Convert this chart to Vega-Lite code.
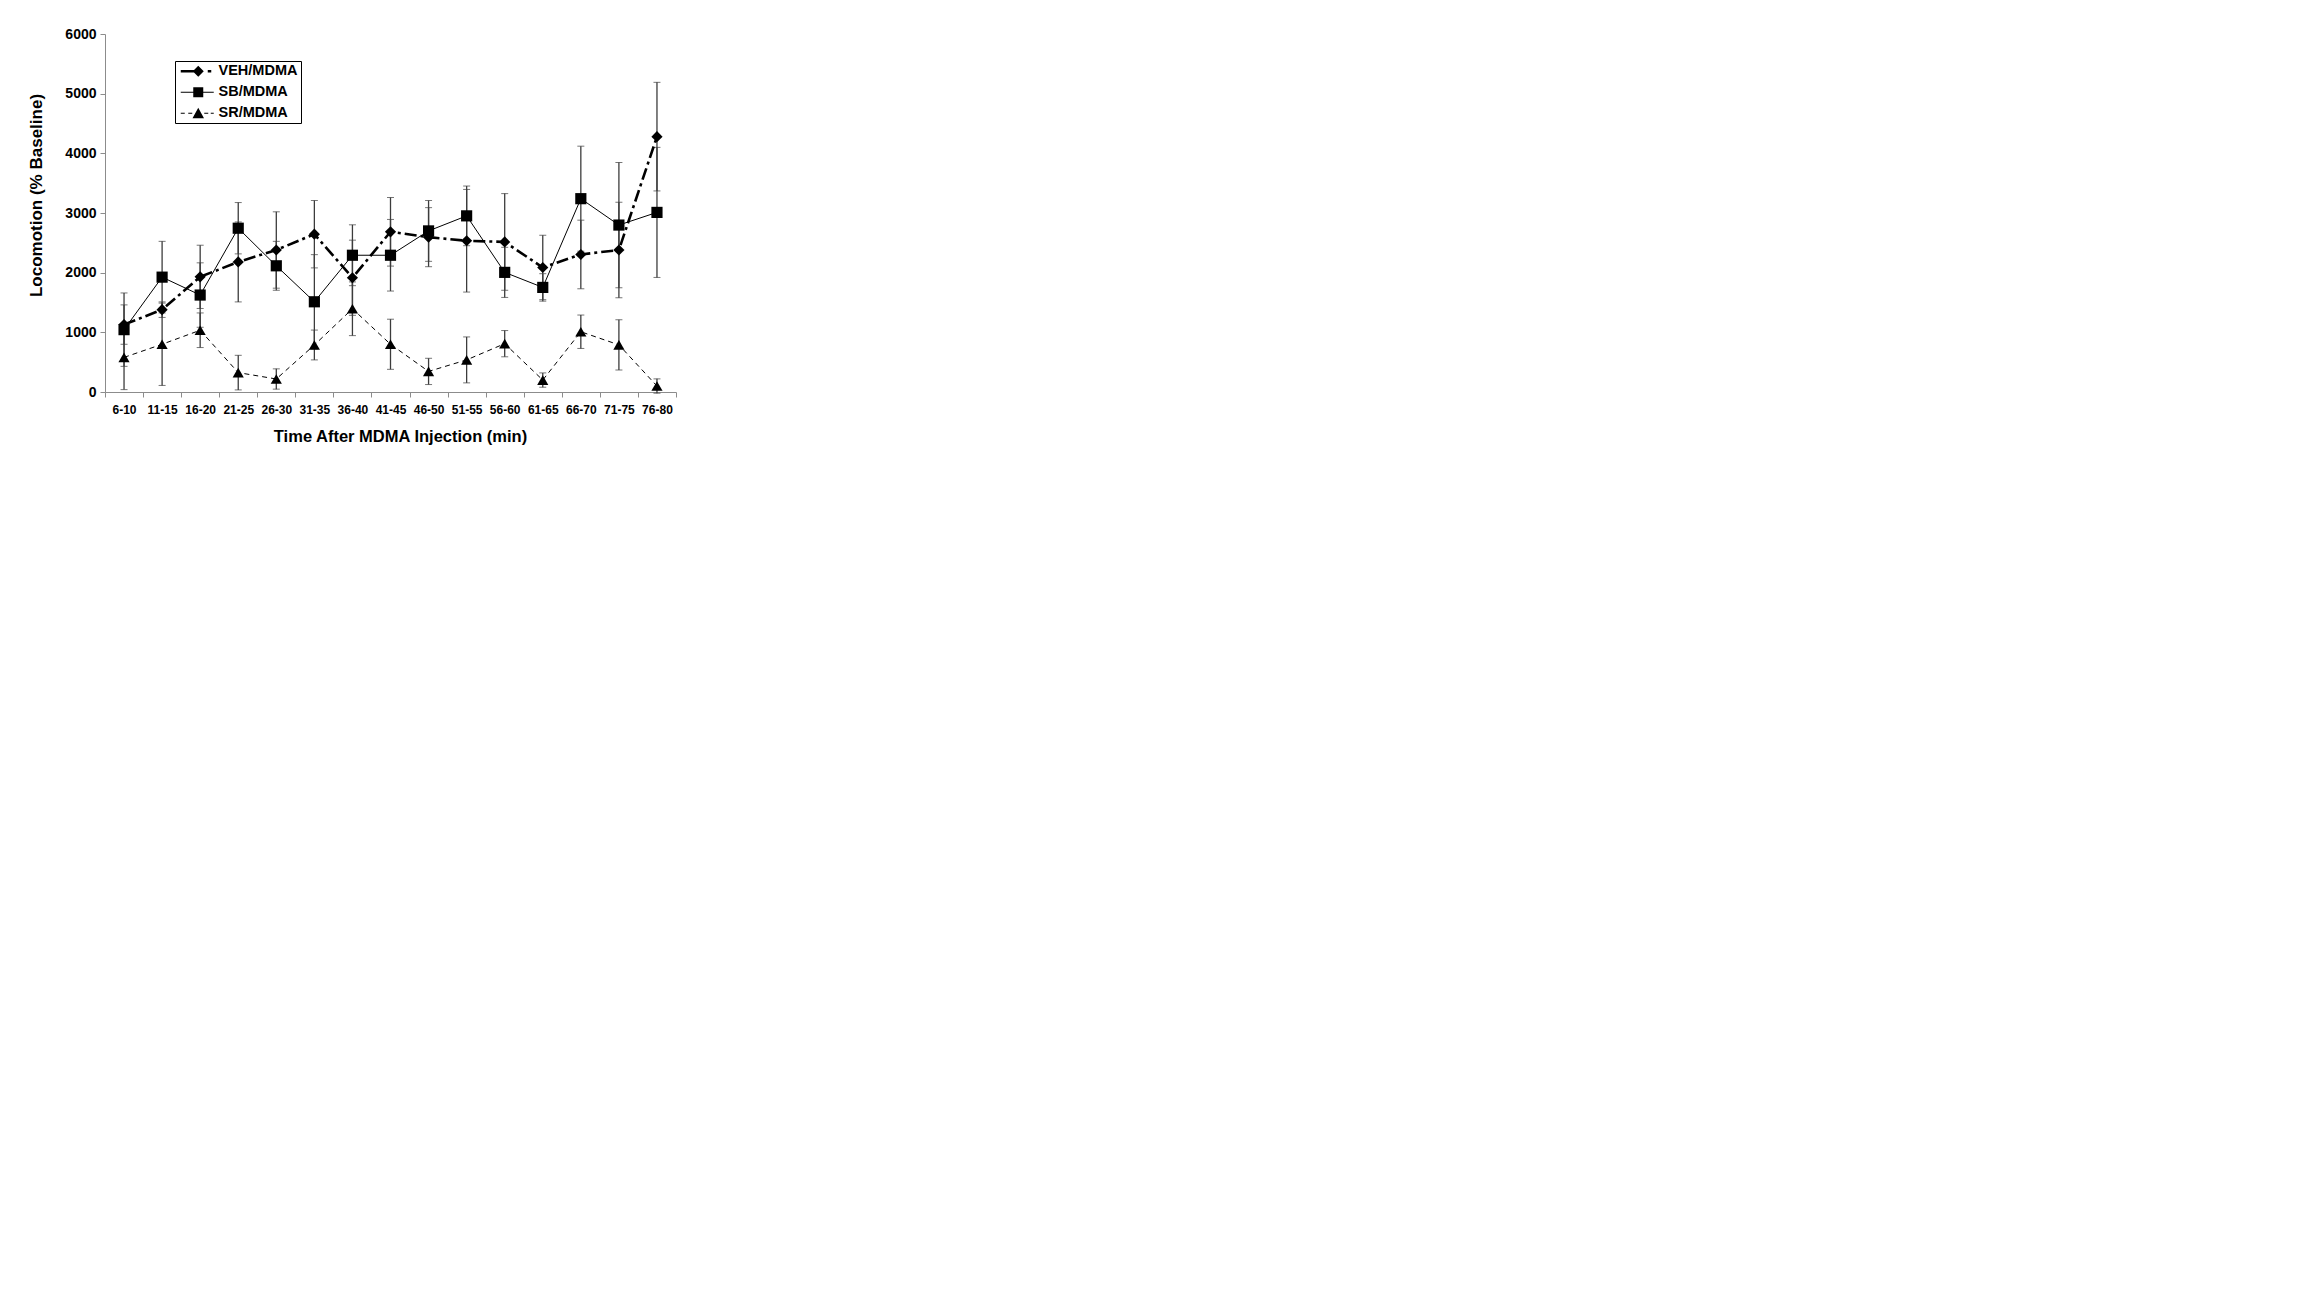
{
  "$schema": "https://vega.github.io/schema/vega-lite/v6.json",
  "autosize": {"type": "none"},
  "padding": {"left": 105, "top": 34, "right": 1628, "bottom": 904},
  "width": 571,
  "height": 358,
  "background": "white",
  "config": {
    "view": {"stroke": null},
    "font": "Liberation Sans",
    "axis": {
      "labelFont": "Liberation Sans",
      "labelFontWeight": "bold",
      "labelColor": "black",
      "titleFont": "Liberation Sans",
      "titleFontWeight": "bold",
      "titleColor": "black",
      "domainColor": "#8c8c8c",
      "tickColor": "#8c8c8c",
      "grid": false
    }
  },
  "data": {
    "values": [
      {"t": "6-10", "group": "VEH/MDMA", "value": 1130, "err": 330},
      {"t": "11-15", "group": "VEH/MDMA", "value": 1380, "err": 130},
      {"t": "16-20", "group": "VEH/MDMA", "value": 1930, "err": 530},
      {"t": "21-25", "group": "VEH/MDMA", "value": 2180, "err": 670},
      {"t": "26-30", "group": "VEH/MDMA", "value": 2380, "err": 640},
      {"t": "31-35", "group": "VEH/MDMA", "value": 2645, "err": 565},
      {"t": "36-40", "group": "VEH/MDMA", "value": 1915, "err": 630},
      {"t": "41-45", "group": "VEH/MDMA", "value": 2685, "err": 575},
      {"t": "46-50", "group": "VEH/MDMA", "value": 2595, "err": 495},
      {"t": "51-55", "group": "VEH/MDMA", "value": 2535, "err": 860},
      {"t": "56-60", "group": "VEH/MDMA", "value": 2515, "err": 810},
      {"t": "61-65", "group": "VEH/MDMA", "value": 2087, "err": 540},
      {"t": "66-70", "group": "VEH/MDMA", "value": 2305, "err": 575},
      {"t": "71-75", "group": "VEH/MDMA", "value": 2380, "err": 800},
      {"t": "76-80", "group": "VEH/MDMA", "value": 4280, "err": 910},
      {"t": "6-10", "group": "SB/MDMA", "value": 1045, "err": 615},
      {"t": "11-15", "group": "SB/MDMA", "value": 1925, "err": 600},
      {"t": "16-20", "group": "SB/MDMA", "value": 1625, "err": 540},
      {"t": "21-25", "group": "SB/MDMA", "value": 2745, "err": 430},
      {"t": "26-30", "group": "SB/MDMA", "value": 2115, "err": 410},
      {"t": "31-35", "group": "SB/MDMA", "value": 1512, "err": 790},
      {"t": "36-40", "group": "SB/MDMA", "value": 2292, "err": 510},
      {"t": "41-45", "group": "SB/MDMA", "value": 2292, "err": 600},
      {"t": "46-50", "group": "SB/MDMA", "value": 2700, "err": 510},
      {"t": "51-55", "group": "SB/MDMA", "value": 2952, "err": 500},
      {"t": "56-60", "group": "SB/MDMA", "value": 2005, "err": 420},
      {"t": "61-65", "group": "SB/MDMA", "value": 1753, "err": 230},
      {"t": "66-70", "group": "SB/MDMA", "value": 3240, "err": 880},
      {"t": "71-75", "group": "SB/MDMA", "value": 2798, "err": 1050},
      {"t": "76-80", "group": "SB/MDMA", "value": 3010, "err": 1090},
      {"t": "6-10", "group": "SR/MDMA", "value": 580, "err": 540},
      {"t": "11-15", "group": "SR/MDMA", "value": 800, "err": 690},
      {"t": "16-20", "group": "SR/MDMA", "value": 1035, "err": 290},
      {"t": "21-25", "group": "SR/MDMA", "value": 325, "err": 290},
      {"t": "26-30", "group": "SR/MDMA", "value": 218, "err": 170},
      {"t": "31-35", "group": "SR/MDMA", "value": 788, "err": 250},
      {"t": "36-40", "group": "SR/MDMA", "value": 1395, "err": 450},
      {"t": "41-45", "group": "SR/MDMA", "value": 800, "err": 420},
      {"t": "46-50", "group": "SR/MDMA", "value": 345, "err": 220},
      {"t": "51-55", "group": "SR/MDMA", "value": 538, "err": 385},
      {"t": "56-60", "group": "SR/MDMA", "value": 810, "err": 220},
      {"t": "61-65", "group": "SR/MDMA", "value": 200, "err": 120},
      {"t": "66-70", "group": "SR/MDMA", "value": 1010, "err": 280},
      {"t": "71-75", "group": "SR/MDMA", "value": 790, "err": 420},
      {"t": "76-80", "group": "SR/MDMA", "value": 100, "err": 120}
    ]
  },
  "encoding": {
    "x": {
      "field": "t",
      "type": "ordinal",
      "sort": ["6-10", "11-15", "16-20", "21-25", "26-30", "31-35", "36-40", "41-45", "46-50", "51-55", "56-60", "61-65", "66-70", "71-75", "76-80"],
      "scale": {"paddingInner": 0, "paddingOuter": 0},
      "axis": {
        "title": "Time After MDMA Injection (min)",
        "titleFontSize": 16.5,
        "titlePadding": 13,
        "titleX": 295,
        "labelAngle": 0,
        "labelFontSize": 12,
        "labelPadding": 7,
        "tickBand": "extent",
        "tickSize": 5
      }
    },
    "y": {
      "field": "value",
      "type": "quantitative",
      "scale": {"domain": [0, 6000], "nice": false},
      "axis": {
        "title": "Locomotion (% Baseline)",
        "titleFontSize": 17,
        "titlePadding": 19,
        "titleY": 161,
        "format": "d",
        "values": [0, 1000, 2000, 3000, 4000, 5000, 6000],
        "labelFontSize": 14,
        "labelPadding": 4,
        "tickSize": 5
      }
    }
  },
  "resolve": {"scale": {"shape": "independent"}, "legend": {"shape": "independent"}},
  "layer": [
    {
      "mark": {"type": "errorbar", "ticks": {"size": 7, "color": "#3c3c3c", "strokeWidth": 1.3}, "rule": {"color": "#3c3c3c", "strokeWidth": 1.3}},
      "encoding": {
        "yError": {"field": "err"},
        "detail": {"field": "group"}
      }
    },
    {
      "transform": [{"filter": "datum.group == 'VEH/MDMA'"}],
      "mark": {"type": "line", "color": "black", "strokeWidth": 2.6, "strokeDash": [12, 4, 3, 4]},
      "encoding": {}
    },
    {
      "transform": [{"filter": "datum.group == 'SB/MDMA'"}],
      "mark": {"type": "line", "color": "black", "strokeWidth": 1},
      "encoding": {}
    },
    {
      "transform": [{"filter": "datum.group == 'SR/MDMA'"}],
      "mark": {"type": "line", "color": "black", "strokeWidth": 1, "strokeDash": [5, 4]},
      "encoding": {}
    },
    {
      "mark": {"type": "point", "filled": true, "color": "black", "opacity": 1, "size": 125},
      "encoding": {
        "shape": {
          "field": "group", "type": "nominal",
          "scale": {"domain": ["VEH/MDMA", "SB/MDMA", "SR/MDMA"], "range": ["diamond", "square", "triangle-up"]},
          "legend": null
        }
      }
    },
    {
      "mark": {"type": "point", "filled": true, "color": "black", "opacity": 0, "size": 100},
      "encoding": {
        "shape": {
          "field": "group", "type": "nominal",
          "scale": {
            "domain": ["VEH/MDMA", "SB/MDMA", "SR/MDMA"],
            "range": [
              "M-3.5,-0.26H-0.8V0.26H-3.5Z M1.9,-0.26H2.6V0.26H1.9Z M0,-1.1L1.1,0L0,1.1L-1.1,0Z",
              "M-3.5,-0.1H3.1V0.1H-3.5Z M-1,-1H1V1H-1Z",
              "M-3.5,-0.1H-2.7V0.1H-3.5Z M-2.0,-0.1H-1.2V0.1H-2.0Z M1.2,-0.1H2.0V0.1H1.2Z M2.5,-0.1H3.1V0.1H2.5Z M0,-1.1L1.15,1H-1.15Z"
            ]
          },
          "legend": {
            "title": null,
            "orient": "none",
            "legendX": 70,
            "legendY": 27,
            "strokeColor": "black",
            "padding": 3,
            "rowPadding": 6,
            "symbolSize": 100,
            "symbolOffset": 13,
            "labelOffset": 13,
            "labelFont": "Liberation Sans",
            "labelFontWeight": "bold",
            "labelFontSize": 14.5,
            "labelColor": "black",
            "symbolOpacity": 1,
            "symbolFillColor": "black",
            "symbolStrokeColor": "black",
            "symbolStrokeWidth": 0
          }
        }
      }
    }
  ]
}
